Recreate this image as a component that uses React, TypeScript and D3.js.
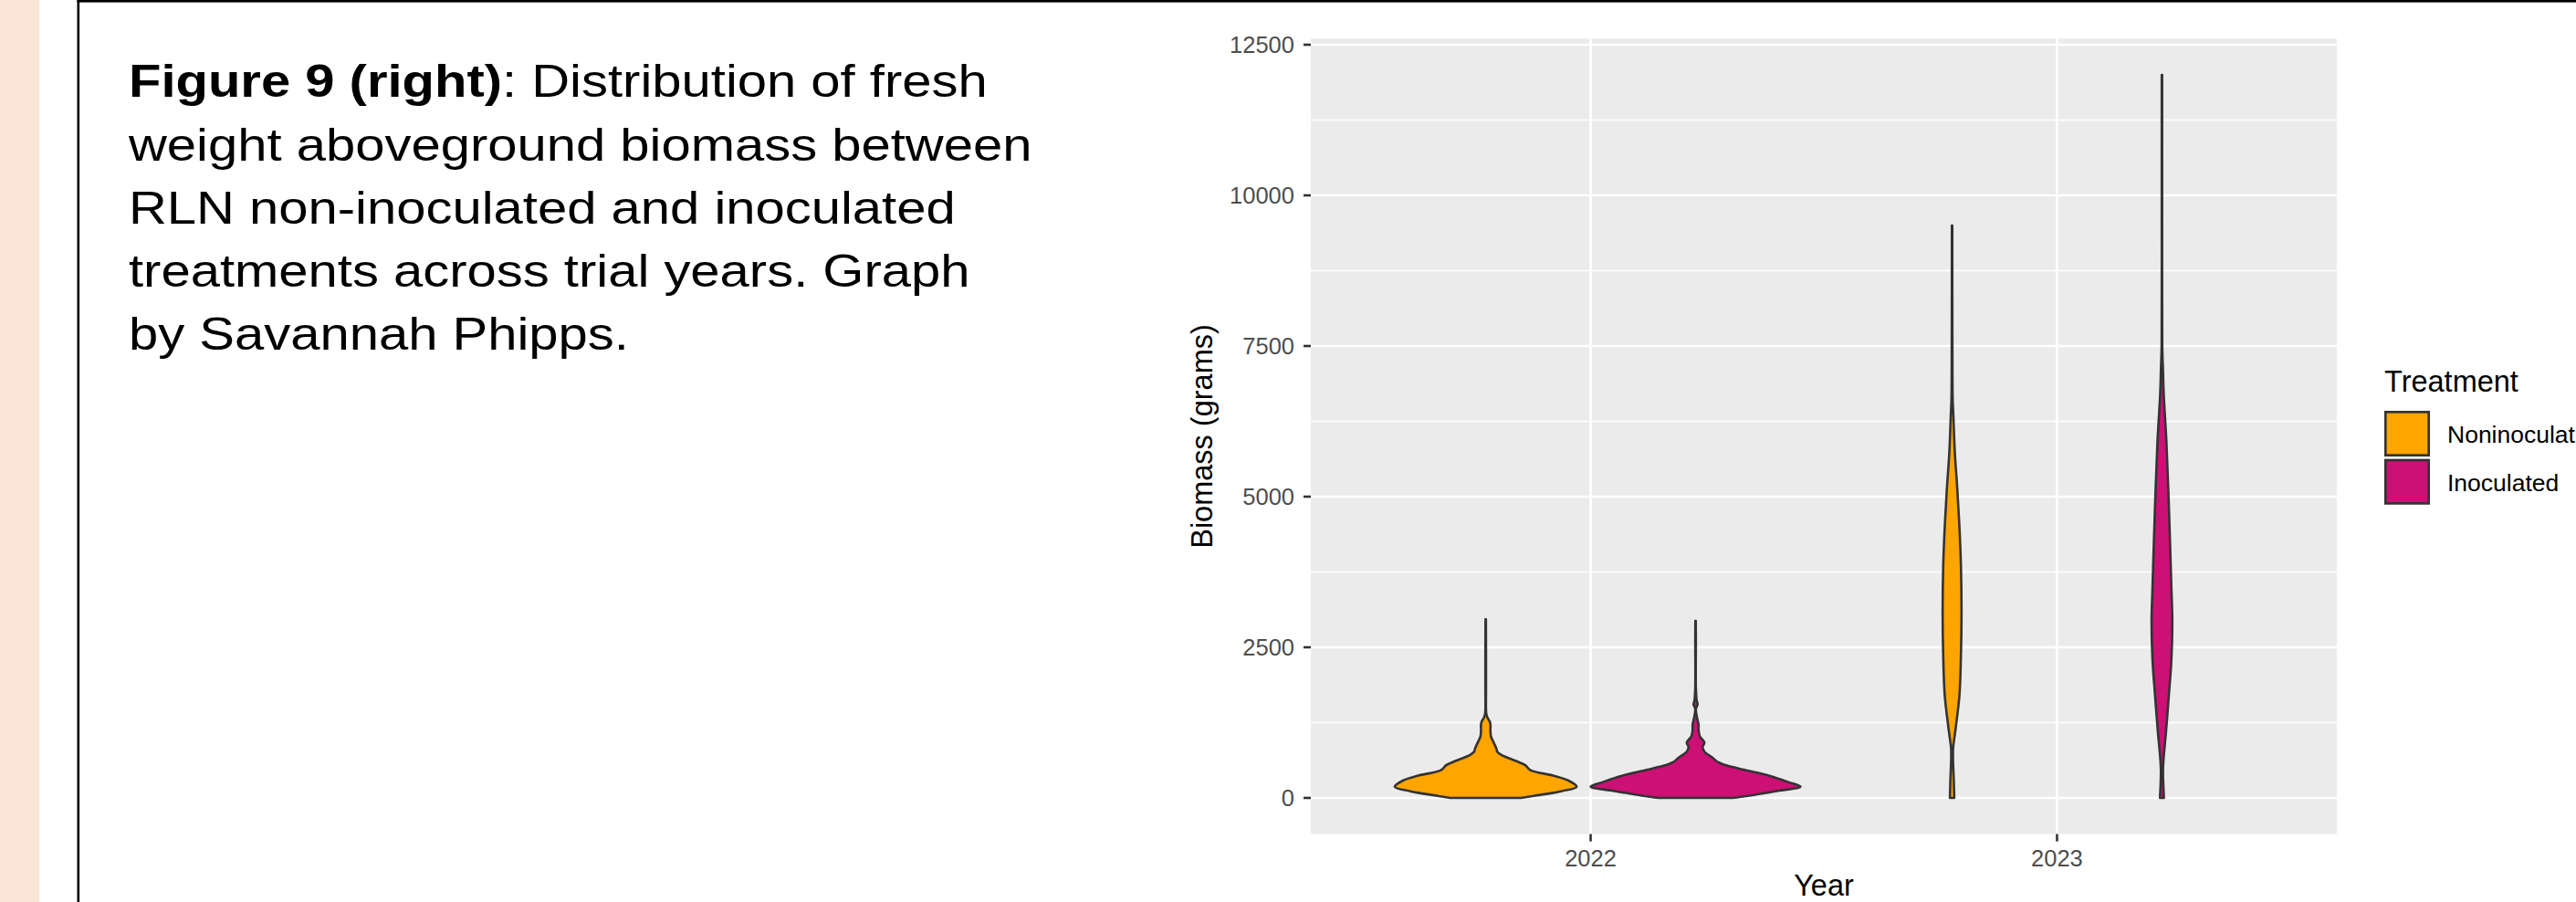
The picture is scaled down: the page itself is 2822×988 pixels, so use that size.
import React from "react";
import { scaleLinear, scalePoint, scaleBand, area, curveCatmullRom } from "d3";

// categories
const years = ["2022", "2023"];
const treatments = ["Noninoculated", "Inoculated"];
const fills = ["#FFA500", "#CD1076"];
const yTicks = [0, 2500, 5000, 7500, 10000, 12500];

// violin outlines: biomass level (g) and relative density (1 = widest violin)
const non2022Biomass = [0, 35, 111, 187, 288, 364, 465, 540, 591, 717, 768, 818, 919, 1020, 1121, 1222, 1273, 1323, 1374, 1424, 1800, 2400, 2965];
const non2022Density = [0.337, 0.46, 0.72, 0.867, 0.789, 0.658, 0.423, 0.38, 0.319, 0.145, 0.11, 0.102, 0.076, 0.05, 0.045, 0.045, 0.037, 0.019, 0.009, 0.004, 0.003, 0.003, 0.002];

const ino2022Biomass = [0, 35, 111, 187, 263, 364, 465, 540, 591, 667, 768, 843, 919, 1020, 1121, 1222, 1323, 1475, 1550, 1626, 1828, 2586, 2939];
const ino2022Density = [0.35, 0.5, 0.76, 1.0, 0.884, 0.71, 0.467, 0.293, 0.215, 0.163, 0.084, 0.067, 0.084, 0.041, 0.029, 0.028, 0.015, 0.003, 0.019, 0.01, 0.003, 0.003, 0.002];

const non2023Biomass = [0, 300, 800, 1100, 1700, 2330, 3070, 3880, 4500, 5120, 5740, 6360, 6610, 7600, 9500];
const non2023Density = [0.021, 0.016, 0.009, 0.03, 0.07, 0.084, 0.09, 0.084, 0.07, 0.05, 0.026, 0.012, 0.006, 0.003, 0.002];

const ino2023Biomass = [0, 440, 680, 1080, 1730, 2290, 2930, 3490, 4300, 5100, 5900, 6700, 7100, 7500, 9500, 12000];
const ino2023Density = [0.019, 0.01, 0.017, 0.038, 0.067, 0.09, 0.099, 0.09, 0.076, 0.061, 0.043, 0.017, 0.01, 0.003, 0.002, 0.002];

const captionLines = [
    "weight aboveground biomass between",
    "RLN non-inoculated and inoculated",
    "treatments across trial years. Graph",
    "by Savannah Phipps.",
];

const W = 2822;
const H = 988;
const panel = { left: 1436, right: 2560, top: 42.4, bottom: 913.6 };
const font = "'Liberation Sans', Arial, sans-serif";

const App = () => {
    const violins = [
        { year: years[0], treatment: treatments[0], biomass: non2022Biomass, density: non2022Density },
        { year: years[0], treatment: treatments[1], biomass: ino2022Biomass, density: ino2022Density },
        { year: years[1], treatment: treatments[0], biomass: non2023Biomass, density: non2023Density },
        { year: years[1], treatment: treatments[1], biomass: ino2023Biomass, density: ino2023Density },
    ];

    // ggplot-style 5% expansion of the data range
    const all = violins.flatMap(v => v.biomass);
    const lo = Math.min(...all);
    const hi = Math.max(...all);
    const pad = (hi - lo) * 0.05;

    const y = scaleLinear().domain([lo - pad, hi + pad]).range([panel.bottom, panel.top]);
    const x = scalePoint().domain(years).range([panel.left, panel.right]).padding(0.6);
    const step = x.step();
    const dodge = scaleBand().domain(treatments).range([-0.45 * step, 0.45 * step]);
    const half = scaleLinear().domain([0, 1]).range([0, dodge.bandwidth() / 2]);
    const fillOf = t => fills[treatments.indexOf(t)];

    const minor = yTicks.slice(0, -1).map((t, i) => (t + yTicks[i + 1]) / 2);

    const violinPath = v => {
        const cx = x(v.year) + dodge(v.treatment) + dodge.bandwidth() / 2;
        const pts = v.biomass.map((b, i) => ({ b, d: v.density[i] }));
        return area()
            .y(p => y(p.b))
            .x0(p => cx - half(p.d))
            .x1(p => cx + half(p.d))
            .curve(curveCatmullRom)(pts);
    };

    return (
        <div style={{ position: "absolute", left: 0, top: 0 }}>
            <svg width={W} height={H} style={{ display: "block", background: "#ffffff" }}>
                {/* slide decoration */}
                <rect x={0} y={0} width={43} height={H} fill="#FBE5D6" />
                <rect x={84.5} y={0} width={2.6} height={H} fill="#000" />
                <rect x={84.5} y={0} width={W - 84.5} height={2.6} fill="#000" />

                {/* caption */}
                <g transform="translate(141,0) scale(1.16,1)" fontFamily={font} fontSize={50} fill="#000">
                    <text x={0} y={106.5}>
                        <tspan fontWeight="bold">Figure 9 (right)</tspan>
                        <tspan>: Distribution of fresh</tspan>
                    </text>
                    {captionLines.map((l, i) => (
                        <text key={i} x={0} y={106.5 + (i + 1) * 69.2}>{l}</text>
                    ))}
                </g>

                {/* panel */}
                <rect x={panel.left} y={panel.top} width={panel.right - panel.left} height={panel.bottom - panel.top} fill="#EBEBEB" />
                {minor.map(t => (
                    <line key={"m" + t} x1={panel.left} x2={panel.right} y1={y(t)} y2={y(t)} stroke="#fff" strokeWidth={1.3} />
                ))}
                {yTicks.map(t => (
                    <line key={"g" + t} x1={panel.left} x2={panel.right} y1={y(t)} y2={y(t)} stroke="#fff" strokeWidth={2.6} />
                ))}
                {years.map(yr => (
                    <line key={"v" + yr} x1={x(yr)} x2={x(yr)} y1={panel.top} y2={panel.bottom} stroke="#fff" strokeWidth={2.6} />
                ))}

                {violins.map((v, i) => (
                    <path key={i} d={violinPath(v)} fill={fillOf(v.treatment)} stroke="#333333" strokeWidth={2.6} strokeLinejoin="round" />
                ))}

                {/* y axis */}
                {yTicks.map(t => (
                    <g key={"yt" + t}>
                        <line x1={panel.left - 8} x2={panel.left} y1={y(t)} y2={y(t)} stroke="#333333" strokeWidth={2.6} />
                        <text x={panel.left - 18} y={y(t)} dy="0.36em" textAnchor="end" fontFamily={font} fontSize={25.5} fill="#4D4D4D">{t}</text>
                    </g>
                ))}
                <text transform={`translate(1328,${(panel.top + panel.bottom) / 2}) rotate(-90)`} textAnchor="middle" fontFamily={font} fontSize={32.5} fill="#000">Biomass (grams)</text>

                {/* x axis */}
                {years.map(yr => (
                    <g key={"xt" + yr}>
                        <line x1={x(yr)} x2={x(yr)} y1={panel.bottom} y2={panel.bottom + 8} stroke="#333333" strokeWidth={2.6} />
                        <text x={x(yr)} y={949} textAnchor="middle" fontFamily={font} fontSize={25.5} fill="#4D4D4D">{yr}</text>
                    </g>
                ))}
                <text x={(panel.left + panel.right) / 2} y={981} textAnchor="middle" fontFamily={font} fontSize={32.5} fill="#000">Year</text>

                {/* legend */}
                <text x={2612} y={429} fontFamily={font} fontSize={32.5} fill="#000">Treatment</text>
                {treatments.map((t, i) => (
                    <g key={"lg" + t}>
                        <rect x={2613.3} y={451.3 + i * 52.7} width={47.4} height={47.4} fill={fills[i]} stroke="#333333" strokeWidth={2.7} />
                        <text x={2681} y={485 + i * 53.3} fontFamily={font} fontSize={26.5} fill="#000">{t}</text>
                    </g>
                ))}
            </svg>
        </div>
    );
};

export default App;
